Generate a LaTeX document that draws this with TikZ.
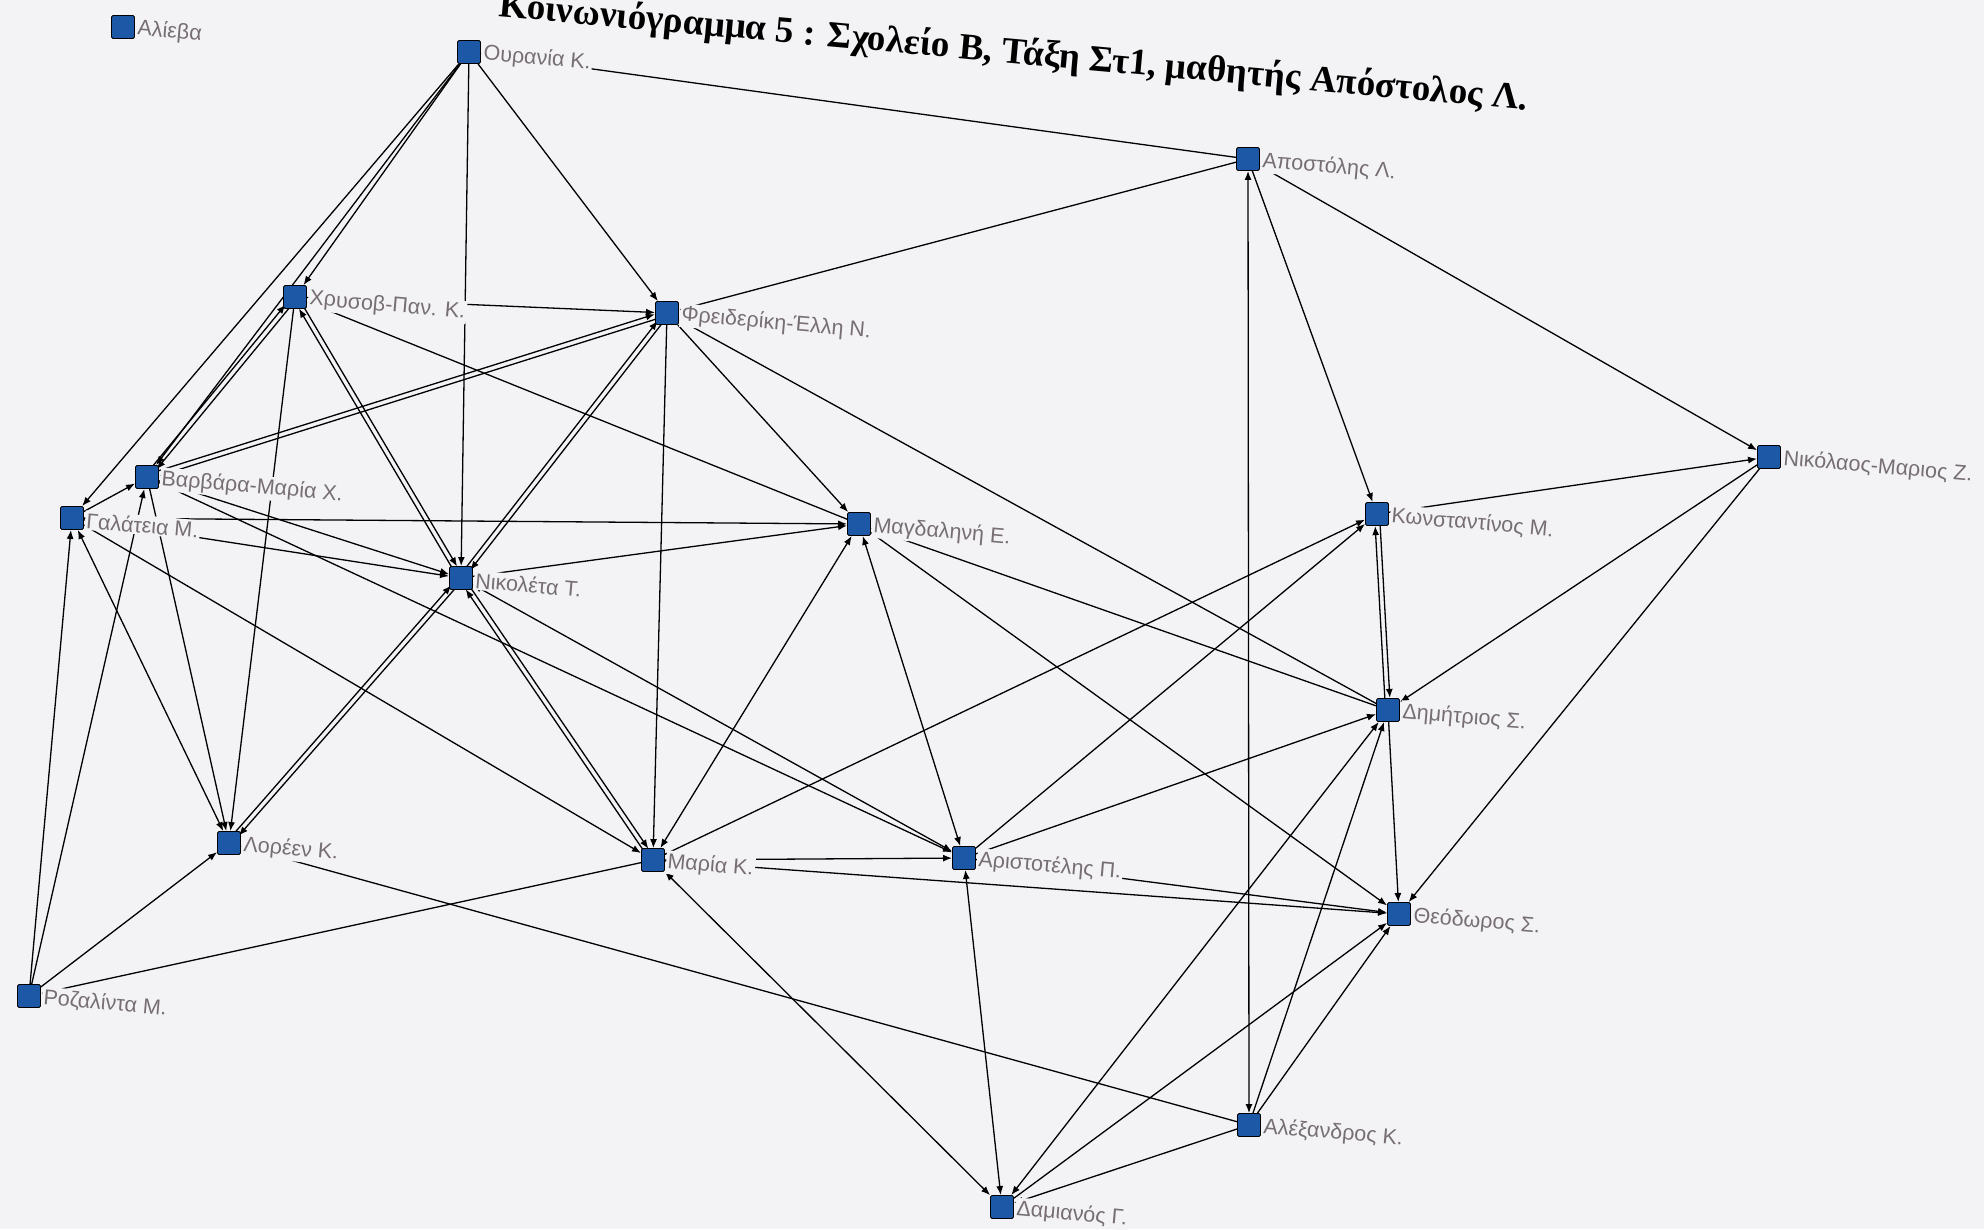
\documentclass[tikz,border=0pt]{standalone}
\usepackage{fontspec}
\setmainfont{Liberation Serif}
\newfontfamily\lblfont{Liberation Sans}
\usetikzlibrary{arrows.meta,calc}
\definecolor{bg}{RGB}{243,243,245}
\definecolor{nodeblue}{RGB}{28,88,165}
\definecolor{lblgray}{RGB}{118,110,116}
\pgfdeclarelayer{back}
\pgfdeclarelayer{edges}
\pgfsetlayers{back,edges,main}
\tikzset{
  sq/.style={draw=black, line width=0.9pt, fill=nodeblue, minimum size=23pt, inner sep=0pt, rounded corners=1.5pt},
  lbl/.style={font=\lblfont\fontsize{21.5}{23}\selectfont, text=lblgray, fill=bg, inner sep=1.5pt, anchor=west, rotate=-5},
  tie/.style={draw=black, line width=1.3pt, ->},
  mutual/.style={draw=black, line width=1.3pt, <->},
  pair/.style={draw=black, line width=1.3pt, ->, shorten >=12pt, shorten <=12pt},
}
\newcommand{\twoway}[2]{%
  \draw[pair] ($(#1)!2.5pt!90:(#2)$) -- ($(#2)!2.5pt!-90:(#1)$);%
  \draw[pair] ($(#2)!2.5pt!90:(#1)$) -- ($(#1)!2.5pt!-90:(#2)$);}
\begin{document}
\begin{tikzpicture}[x=1pt,y=-1pt,>={Latex[length=9pt,width=7pt]}]
\useasboundingbox (0,0) rectangle (1984,1229);
\clip (0,0) rectangle (1984,1229);
\begin{pgfonlayer}{back}
\fill[bg] (0,0) rectangle (1984,1229);
\end{pgfonlayer}

% title (cut off at the top edge, as in the scan)
\node[font=\bfseries\fontsize{37}{40}\selectfont, rotate=-5.2, anchor=base east, inner sep=0pt] (title) at (1527,110)
  {Κοινωνιόγραμμα 5 : Σχολείο Β, Τάξη Στ1, μαθητής Απόστολος Λ.};

% nodes
\node[sq] (ALI) at (123,27) {};
\node[sq] (OU) at (469,52) {};
\node[sq] (AP) at (1248,159) {};
\node[sq] (XR) at (295,297) {};
\node[sq] (FR) at (667,313) {};
\node[sq] (NM) at (1769,457) {};
\node[sq] (BA) at (147,477) {};
\node[sq] (GA) at (72,518) {};
\node[sq] (MG) at (859,524) {};
\node[sq] (KO) at (1377,514) {};
\node[sq] (NI) at (461,578) {};
\node[sq] (DH) at (1388,710) {};
\node[sq] (LO) at (229,843) {};
\node[sq] (MA) at (653,860) {};
\node[sq] (AR) at (964,858) {};
\node[sq] (TH) at (1399,914) {};
\node[sq] (RO) at (29,996) {};
\node[sq] (AL) at (1249,1125) {};
\node[sq] (DA) at (1002,1207) {};

% edges
\begin{pgfonlayer}{edges}
\draw[tie] (AP) -- (OU);
\draw[tie] (OU) -- (FR);
\draw[tie] (OU) -- (NI);
\draw[tie] (OU) -- (XR);
\draw[tie] (OU) -- (BA);
\draw[tie] (OU) -- (GA);
\twoway{XR}{BA}
\draw[tie] (XR) -- (FR);
\twoway{XR}{NI}
\draw[tie] (MG) -- (XR);
\draw[tie] (XR) -- (LO);
\twoway{BA}{FR}
\draw[tie] (BA) -- (NI);
\draw[tie] (BA) -- (AR);
\draw[tie] (BA) -- (LO);
\draw[tie] (GA) -- (BA);
\draw[tie] (RO) -- (GA);
\draw[tie] (RO) -- (BA);
\draw[mutual] (GA) -- (LO);
\draw[tie] (GA) -- (MA);
\draw[tie] (GA) -- (MG);
\draw[tie] (GA) -- (NI);
\twoway{NI}{LO}
\draw[tie] (RO) -- (LO);
\draw[tie] (MA) -- (RO);
\draw[tie] (AL) -- (LO);
\twoway{NI}{MA}
\twoway{NI}{FR}
\draw[tie] (NI) -- (MG);
\draw[mutual] (NI) -- (AR);
\draw[tie] (FR) -- (MA);
\draw[tie] (FR) -- (MG);
\draw[tie] (DH) -- (FR);
\draw[tie] (AP) -- (FR);
\draw[mutual] (MG) -- (MA);
\draw[mutual] (MG) -- (AR);
\draw[tie] (MG) -- (TH);
\draw[tie] (DH) -- (MG);
\draw[tie] (MA) -- (AR);
\draw[tie] (MA) -- (TH);
\draw[mutual] (MA) -- (DA);
\draw[tie] (MA) -- (KO);
\draw[tie] (AR) -- (TH);
\draw[mutual] (AR) -- (DA);
\draw[tie] (AR) -- (KO);
\draw[tie] (AR) -- (DH);
\draw[tie] (DH) -- (TH);
\draw[tie] (NM) -- (TH);
\draw[tie] (NM) -- (DH);
\twoway{KO}{DH}
\draw[mutual] (AP) -- (AL);
\draw[tie] (AP) -- (KO);
\draw[mutual] (AP) -- (NM);
\draw[tie] (KO) -- (NM);
\draw[mutual] (DA) -- (DH);
\draw[tie] (DA) -- (TH);
\draw[tie] (AL) -- (DA);
\draw[tie] (AL) -- (DH);
\draw[tie] (AL) -- (TH);
\end{pgfonlayer}

% labels
\node[lbl] (ALIl) at ([xshift=1pt,yshift=-2pt]ALI.east) {Αλίεβα};
\node[lbl] (OUl) at ([xshift=1pt,yshift=-2pt]OU.east) {Ουρανία Κ.};
\node[lbl] (APl) at ([xshift=1pt,yshift=-2pt]AP.east) {Αποστόλης Λ.};
\node[lbl] (XRl) at ([xshift=1pt,yshift=-2pt]XR.east) {Χρυσοβ-Παν. Κ.};
\node[lbl] (FRl) at ([xshift=1pt,yshift=-2pt]FR.east) {Φρειδερίκη-Έλλη Ν.};
\node[lbl] (NMl) at ([xshift=1pt,yshift=-2pt]NM.east) {Νικόλαος-Μαριος Ζ.};
\node[lbl] (BAl) at ([xshift=1pt,yshift=-2pt]BA.east) {Βαρβάρα-Μαρία Χ.};
\node[lbl] (GAl) at ([xshift=1pt,yshift=-2pt]GA.east) {Γαλάτεια Μ.};
\node[lbl] (MGl) at ([xshift=1pt,yshift=-2pt]MG.east) {Μαγδαληνή Ε.};
\node[lbl] (KOl) at ([xshift=1pt,yshift=-2pt]KO.east) {Κωνσταντίνος Μ.};
\node[lbl] (NIl) at ([xshift=1pt,yshift=-2pt]NI.east) {Νικολέτα Τ.};
\node[lbl] (DHl) at ([xshift=1pt,yshift=-2pt]DH.east) {Δημήτριος Σ.};
\node[lbl] (LOl) at ([xshift=1pt,yshift=-2pt]LO.east) {Λορέεν Κ.};
\node[lbl] (MAl) at ([xshift=1pt,yshift=-2pt]MA.east) {Μαρία Κ.};
\node[lbl] (ARl) at ([xshift=1pt,yshift=-2pt]AR.east) {Αριστοτέλης Π.};
\node[lbl] (THl) at ([xshift=1pt,yshift=-2pt]TH.east) {Θεόδωρος Σ.};
\node[lbl] (ROl) at ([xshift=1pt,yshift=-2pt]RO.east) {Ροζαλίντα Μ.};
\node[lbl] (ALl) at ([xshift=1pt,yshift=-2pt]AL.east) {Αλέξανδρος Κ.};
\node[lbl] (DAl) at ([xshift=1pt,yshift=-2pt]DA.east) {Δαμιανός Γ.};
\end{tikzpicture}
\end{document}
